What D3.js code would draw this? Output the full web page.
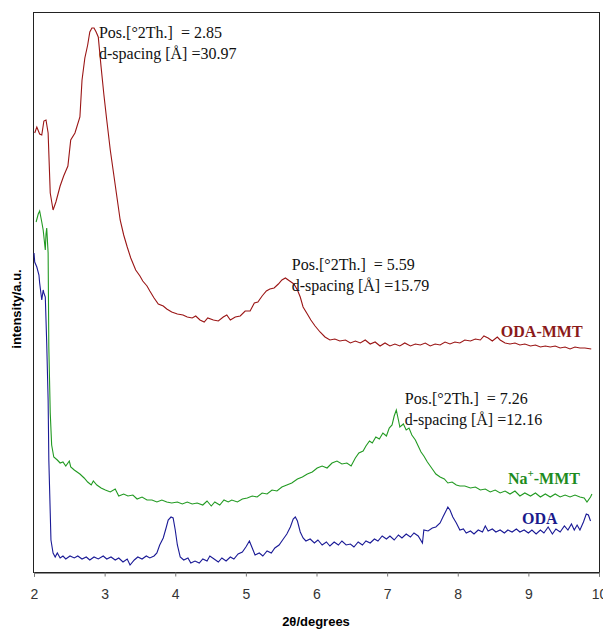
<!DOCTYPE html>
<html>
<head>
<meta charset="utf-8">
<script src="https://cdn.jsdelivr.net/npm/d3@7"></script>
<style>
  body { margin: 0; background: #fff; }
  svg { display: block; }
  .note { white-space: pre; }
</style>
</head>
<body>
<svg id="chart" width="603" height="629"></svg>
<script>
// [2theta, intensity a.u.]
const odaMmt = [
  [2.01,439],[2.04,445],[2.08,438],[2.11,437],[2.14,451],[2.17,452],[2.20,439],[2.23,379],
  [2.27,362],[2.31,370],[2.37,386],[2.42,396],[2.48,406],[2.52,432],[2.58,439],[2.65,455],
  [2.68,492],[2.72,514],[2.76,527],[2.79,540],[2.82,544],[2.85,544],[2.88,540],[2.91,535],
  [2.95,505],[2.99,477],[3.03,452],[3.08,422],[3.12,402],[3.18,372],[3.22,352],[3.27,337],
  [3.32,325],[3.37,314],[3.44,302],[3.50,296],[3.54,291],[3.60,286],[3.64,281],[3.70,274],
  [3.76,268],[3.83,266],[3.88,263],[3.95,260],[4.03,258],[4.11,257],[4.17,255],[4.24,254],
  [4.29,256],[4.35,252],[4.41,250],[4.46,254],[4.54,252],[4.61,251],[4.68,255],[4.73,257],
  [4.78,252],[4.85,255],[4.92,256],[4.99,261],[5.06,261],[5.12,269],[5.17,270],[5.23,276],
  [5.29,281],[5.34,283],[5.40,284],[5.46,288],[5.51,292],[5.56,294],[5.60,292],[5.64,290],
  [5.68,288],[5.73,282],[5.77,275],[5.81,265],[5.87,258],[5.92,252],[5.98,246],[6.05,240],
  [6.12,235],[6.19,232],[6.26,233],[6.33,231],[6.41,232],[6.48,229],[6.55,231],[6.62,229],
  [6.69,232],[6.76,228],[6.83,230],[6.90,226],[6.97,229],[7.04,226],[7.11,228],[7.18,226],
  [7.25,229],[7.33,226],[7.40,228],[7.47,227],[7.54,229],[7.61,226],[7.68,228],[7.75,227],
  [7.82,230],[7.89,228],[7.96,230],[8.03,229],[8.10,232],[8.18,231],[8.25,233],[8.32,232],
  [8.37,236],[8.43,234],[8.49,231],[8.56,235],[8.60,232],[8.67,229],[8.74,228],[8.81,229],
  [8.88,227],[8.95,228],[9.03,226],[9.10,227],[9.17,225],[9.24,226],[9.31,225],[9.38,226],
  [9.45,224],[9.52,225],[9.59,223],[9.66,225],[9.73,224],[9.80,224],[9.89,223]
];

const naMmt = [
  [2.03,350],[2.06,358],[2.08,361],[2.11,350],[2.13,342],[2.16,322],[2.17,338],[2.18,344],
  [2.20,319],[2.21,225],[2.23,159],[2.25,127],[2.28,115],[2.33,112],[2.37,109],[2.41,110],
  [2.45,106],[2.50,111],[2.52,105],[2.57,102],[2.61,100],[2.65,98],[2.71,94],[2.76,90],
  [2.81,87],[2.84,91],[2.89,87],[2.95,84],[3.01,82],[3.08,80],[3.15,83],[3.20,76],
  [3.27,78],[3.33,76],[3.40,77],[3.46,73],[3.53,75],[3.60,72],[3.67,72],[3.74,70],
  [3.81,72],[3.88,70],[3.95,69],[4.03,70],[4.10,68],[4.17,70],[4.24,68],[4.31,69],
  [4.39,67],[4.45,71],[4.51,66],[4.56,70],[4.63,67],[4.69,72],[4.75,70],[4.80,72],
  [4.88,70],[4.95,73],[5.02,74],[5.09,76],[5.16,75],[5.23,79],[5.30,78],[5.37,82],
  [5.44,81],[5.51,85],[5.58,87],[5.65,89],[5.73,93],[5.80,95],[5.87,98],[5.94,100],
  [6.01,104],[6.08,106],[6.15,104],[6.22,109],[6.29,111],[6.36,108],[6.43,109],[6.49,106],
  [6.55,114],[6.60,119],[6.66,121],[6.70,126],[6.75,131],[6.79,129],[6.84,135],[6.89,133],
  [6.94,139],[6.99,136],[7.03,144],[7.07,147],[7.10,156],[7.13,162],[7.16,152],[7.18,145],
  [7.23,148],[7.27,142],[7.31,144],[7.35,137],[7.40,132],[7.44,126],[7.48,120],[7.52,116],
  [7.57,110],[7.61,106],[7.65,102],[7.69,98],[7.75,95],[7.81,93],[7.86,89],[7.92,90],
  [7.98,87],[8.03,86],[8.10,86],[8.18,84],[8.25,85],[8.32,82],[8.39,83],[8.46,80],
  [8.53,82],[8.60,79],[8.67,81],[8.74,78],[8.81,81],[8.88,76],[8.95,79],[9.03,76],
  [9.10,79],[9.17,75],[9.24,78],[9.31,75],[9.38,78],[9.45,75],[9.52,77],[9.59,75],
  [9.66,77],[9.73,75],[9.79,74],[9.83,70],[9.88,75],[9.90,78]
];

const oda = [
  [2.00,319],[2.01,310],[2.04,305],[2.07,297],[2.08,289],[2.11,272],[2.13,282],[2.14,279],
  [2.16,275],[2.17,252],[2.18,229],[2.20,172],[2.21,112],[2.23,59],[2.24,32],[2.27,19],
  [2.30,15],[2.33,19],[2.37,14],[2.41,16],[2.45,13],[2.51,16],[2.57,14],[2.62,16],
  [2.68,13],[2.74,15],[2.79,12],[2.85,15],[2.91,13],[2.98,16],[3.03,13],[3.09,15],
  [3.15,12],[3.20,14],[3.26,10],[3.32,13],[3.36,7],[3.42,12],[3.47,15],[3.53,13],
  [3.59,16],[3.64,14],[3.70,16],[3.74,19],[3.78,27],[3.83,34],[3.87,44],[3.90,52],
  [3.94,55],[3.97,54],[4.00,42],[4.03,27],[4.07,15],[4.12,12],[4.18,14],[4.22,9],
  [4.28,11],[4.34,9],[4.39,13],[4.45,11],[4.49,16],[4.55,13],[4.61,10],[4.66,14],
  [4.72,11],[4.78,15],[4.83,13],[4.89,18],[4.95,20],[5.00,25],[5.05,31],[5.09,24],
  [5.13,17],[5.19,19],[5.24,16],[5.30,21],[5.36,19],[5.41,24],[5.47,27],[5.53,33],
  [5.58,38],[5.63,45],[5.67,53],[5.70,55],[5.73,51],[5.77,40],[5.81,34],[5.85,31],
  [5.91,33],[5.97,29],[6.02,32],[6.08,27],[6.14,30],[6.19,26],[6.25,30],[6.31,27],
  [6.36,31],[6.42,27],[6.48,28],[6.53,25],[6.59,30],[6.65,27],[6.70,31],[6.76,29],
  [6.82,33],[6.87,31],[6.93,36],[6.99,33],[7.04,36],[7.10,32],[7.16,37],[7.21,34],
  [7.27,38],[7.33,35],[7.38,39],[7.44,36],[7.50,29],[7.52,42],[7.58,41],[7.64,44],
  [7.69,45],[7.75,49],[7.79,55],[7.84,62],[7.86,65],[7.89,62],[7.93,55],[7.98,49],
  [8.03,42],[8.08,43],[8.12,39],[8.18,41],[8.23,38],[8.29,42],[8.35,40],[8.39,46],
  [8.43,41],[8.49,43],[8.54,40],[8.60,42],[8.66,39],[8.71,42],[8.77,40],[8.83,43],
  [8.88,40],[8.94,42],[9.00,39],[9.05,42],[9.11,38],[9.17,42],[9.22,39],[9.28,45],
  [9.34,38],[9.39,43],[9.45,40],[9.51,46],[9.56,42],[9.61,48],[9.65,42],[9.69,47],
  [9.73,42],[9.78,50],[9.82,58],[9.85,57],[9.88,51]
];

const xTicks = [2, 3, 4, 5, 6, 7, 8, 9, 10];

// peak annotations: position, label lines
const peaks = [
  { x: 2.92, y: 534, lines: ["Pos.[\u00B02Th.]  = 2.85", "d-spacing [\u00C5] =30.97"] },
  { x: 5.65, y: 302, lines: ["Pos.[\u00B02Th.]  = 5.59", "d-spacing [\u00C5] =15.79"] },
  { x: 7.25, y: 168, lines: ["Pos.[\u00B02Th.]  = 7.26", "d-spacing [\u00C5] =12.16"] }
];

const series = [
  { name: "ODA-MMT", data: odaMmt, color: "#9a1515", text: "#8b1a1a", lx: 8.61, ly: 235 },
  { name: "Na+-MMT", data: naMmt, color: "#229a22", text: "#1e8c1e", lx: 8.71, ly: 88 },
  { name: "ODA", data: oda, color: "#1a1a96", text: "#1a1a8c", lx: 8.91, ly: 48 }
];

const svg = d3.select("#chart");
const m = { left: 34, right: 599, top: 12, bottom: 572 };

const x = d3.scaleLinear().domain([2, 10]).range([m.left, m.right]);
const y = d3.scaleLinear().domain([0, 560]).range([m.bottom, m.top]);

// frame
svg.append("rect")
  .attr("x", m.left - 0.5).attr("y", m.top + 0.5)
  .attr("width", m.right - m.left + 1).attr("height", m.bottom - m.top)
  .attr("fill", "none").attr("stroke", "#222").attr("stroke-width", 1);

const xAxis = svg.append("g")
  .attr("transform", `translate(0,${m.bottom + 0.5})`)
  .call(d3.axisBottom(x).tickValues(xTicks).tickFormat(d3.format("d")).tickSize(4).tickPadding(13));
xAxis.select(".domain").attr("stroke", "#222");
xAxis.selectAll(".tick line").attr("stroke", "#777");
xAxis.selectAll("text")
  .attr("font-family", "'Liberation Sans Narrow', 'Liberation Sans', Arial, sans-serif")
  .attr("font-size", 14).attr("fill", "#333");

svg.append("text")
  .attr("x", 316).attr("y", 626)
  .attr("text-anchor", "middle")
  .attr("font-family", "'Liberation Sans', Arial, sans-serif")
  .attr("font-weight", "bold").attr("font-size", 13)
  .text("2\u03B8/degrees");

svg.append("text")
  .attr("transform", "translate(21,309) rotate(-90)")
  .attr("text-anchor", "middle")
  .attr("font-family", "'Liberation Sans', Arial, sans-serif")
  .attr("font-weight", "bold").attr("font-size", 13)
  .text("intensity/a.u.");

const line = d3.line().x(d => x(d[0])).y(d => y(d[1]));

svg.selectAll("path.curve")
  .data(series)
  .join("path")
  .attr("class", "curve")
  .attr("d", d => line(d.data))
  .attr("fill", "none")
  .attr("stroke", d => d.color)
  .attr("stroke-width", 1.1);

// series labels
series.forEach(s => {
  const t = svg.append("text")
    .attr("x", x(s.lx)).attr("y", y(s.ly))
    .attr("font-family", "'Liberation Serif', 'Times New Roman', serif")
    .attr("font-weight", "bold").attr("font-size", 16)
    .attr("fill", s.text);
  if (s.name === "Na+-MMT") {
    t.append("tspan").text("Na");
    t.append("tspan").attr("dy", -7).attr("font-size", 11).text("+");
    t.append("tspan").attr("dy", 7).text("-MMT");
  } else {
    t.text(s.name);
  }
});

// peak annotations
peaks.forEach(p => {
  const t = svg.append("text")
    .attr("class", "note")
    .attr("font-family", "'Liberation Serif', 'Times New Roman', serif")
    .attr("font-size", 16).attr("fill", "#111");
  p.lines.forEach((l, i) => {
    t.append("tspan").attr("x", x(p.x)).attr("y", y(p.y) + i * 21).text(l);
  });
});
</script>
</body>
</html>
